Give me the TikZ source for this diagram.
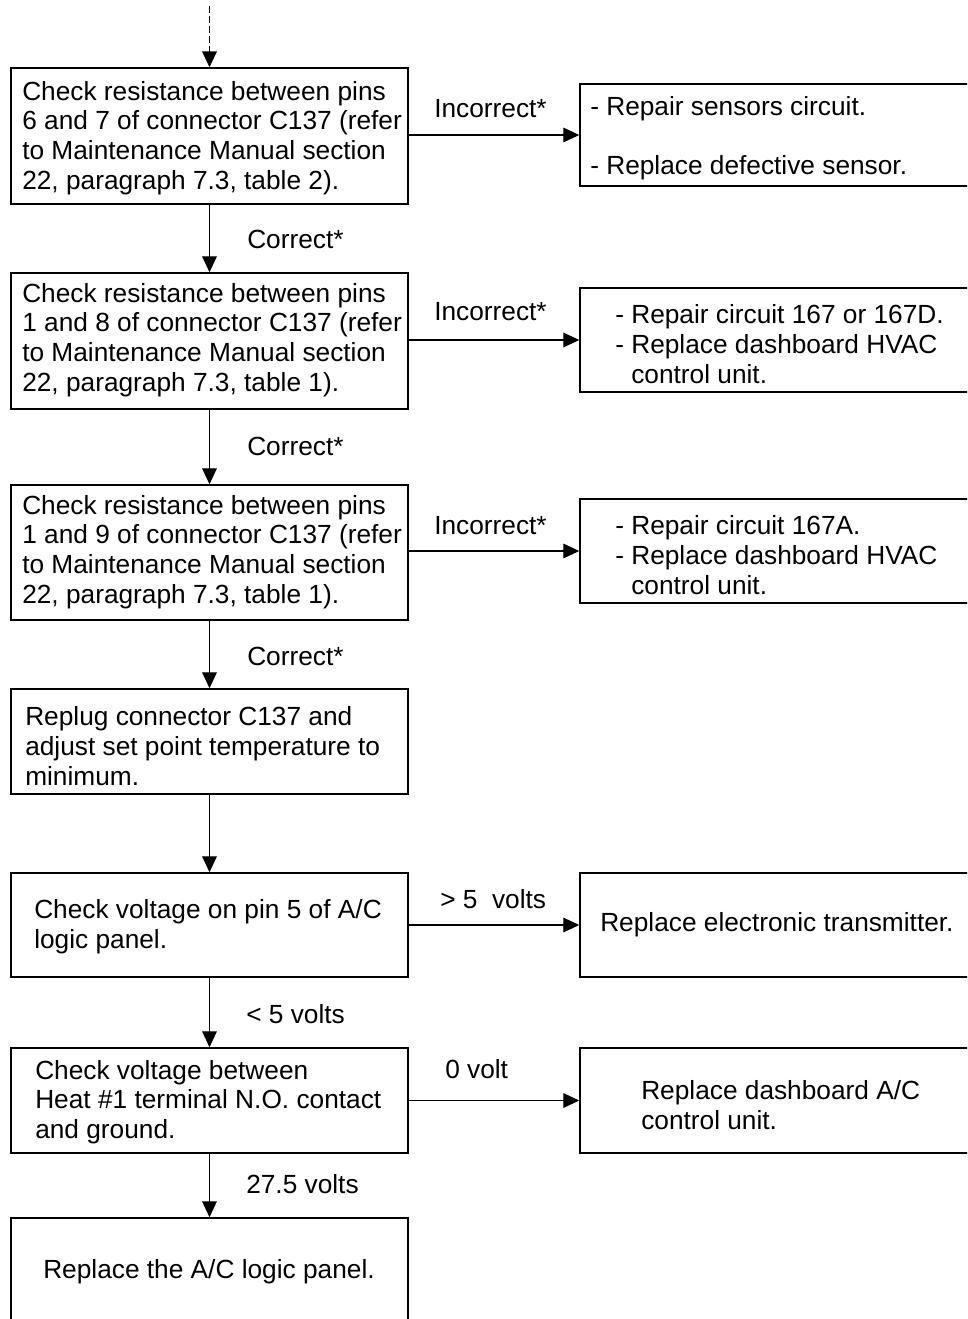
\documentclass[tikz,border=0pt]{standalone}
\usepackage{fontspec}
\setmainfont{Liberation Sans}
\usetikzlibrary{arrows.meta,fit}
\begin{document}
\begin{tikzpicture}[x=0.75pt,y=-0.75pt,
  box/.style={draw,line width=1.1pt,inner sep=0pt},
  txt/.style={inner sep=0pt,anchor=west,align=left,font=\fontsize{19.7}{22.3}\selectfont},
  lbl/.style={inner sep=0pt,anchor=west,font=\fontsize{19.7}{22.3}\selectfont},
  arr/.style={line width=0.9pt,-{Triangle[length=12pt,width=11pt]}},
  dasharr/.style={arr,line width=1.4pt,dash pattern=on 5pt off 2.5pt}]
\useasboundingbox (0,0) rectangle (967,1319);
\clip (0,0) rectangle (967,1319);
% left boxes
\node[box,fit={(11,68) (408,204)}] (b1) {};
\node[box,fit={(11,273) (408,409)}] (b2) {};
\node[box,fit={(11,485) (408,620)}] (b3) {};
\node[box,fit={(11,689) (408,794)}] (b4) {};
\node[box,fit={(11,873) (408,977)}] (b5) {};
\node[box,fit={(11,1048) (408,1153)}] (b6) {};
\node[box,fit={(11,1218) (408,1360)}] (b7) {};
% right boxes
\node[box,fit={(580,84) (990,186)}] (r1) {};
\node[box,fit={(580,288) (990,392)}] (r2) {};
\node[box,fit={(580,499) (990,603)}] (r3) {};
\node[box,fit={(580,873) (990,977)}] (r5) {};
\node[box,fit={(580,1048) (990,1153)}] (r6) {};
% texts in left boxes
\node[txt] (t1) at (22,138) {Check resistance between pins\\6 and 7 of connector C137 (refer\\to Maintenance Manual section\\22, paragraph 7.3, table 2).};
\node[txt] (t2) at (22,340) {Check resistance between pins\\1 and 8 of connector C137 (refer\\to Maintenance Manual section\\22, paragraph 7.3, table 1).};
\node[txt] (t3) at (22,552) {Check resistance between pins\\1 and 9 of connector C137 (refer\\to Maintenance Manual section\\22, paragraph 7.3, table 1).};
\node[txt] (t4) at (25,746) {Replug connector C137 and\\adjust set point temperature to\\minimum.};
\node[txt] (t5) at (34,927) {Check voltage on pin 5 of A/C\\logic panel.};
\node[txt] (t6) at (35,1102) {Check voltage between\\Heat \#1 terminal N.O. contact\\and ground.};
\node[txt] (t7) at (43,1272) {Replace the A/C logic panel.};
% texts in right boxes
\node[txt] (s1) at (590,138) {- Repair sensors circuit.\\[22.3pt]- Replace defective sensor.};
\node[txt] (s2) at (615,344) {- Repair circuit 167 or 167D.\\- Replace dashboard HVAC\\\phantom{- }control unit.};
\node[txt] (s3) at (615,555) {- Repair circuit 167A.\\- Replace dashboard HVAC\\\phantom{- }control unit.};
\node[txt] (s5) at (600,925) {Replace electronic transmitter.};
\node[txt] (s6) at (641,1105) {Replace dashboard A/C\\control unit.};
% entry arrow
\coordinate (top) at (209.5,6);
\draw[dasharr] (top) -- (b1.north);
% vertical arrows
\draw[arr] (b1.south) -- (b2.north);
\draw[arr] (b2.south) -- (b3.north);
\draw[arr] (b3.south) -- (b4.north);
\draw[arr] (b4.south) -- (b5.north);
\draw[arr] (b5.south) -- (b6.north);
\draw[arr] (b6.south) -- (b7.north);
% horizontal arrows
\draw[arr] (r1.west -| b1.east) -- (r1.west);
\draw[arr] (r2.west -| b2.east) -- (r2.west);
\draw[arr] (r3.west -| b3.east) -- (r3.west);
\draw[arr] (r5.west -| b5.east) -- (r5.west);
\draw[arr] (r6.west -| b6.east) -- (r6.west);
% labels
\node[lbl] (l1) at (434,109) {Incorrect*};
\node[lbl] (l2) at (434,312) {Incorrect*};
\node[lbl] (l3) at (434,526) {Incorrect*};
\node[lbl] (c1) at (247,239) {Correct*};
\node[lbl] (c2) at (247,446) {Correct*};
\node[lbl] (c3) at (247,656) {Correct*};
\node[lbl] (v1) at (440,899) {> 5\ \ volts};
\node[lbl] (v2) at (246,1014) {< 5 volts};
\node[lbl] (v3) at (445,1069) {0 volt};
\node[lbl] (v4) at (246,1184) {27.5 volts};
\end{tikzpicture}
\end{document}
